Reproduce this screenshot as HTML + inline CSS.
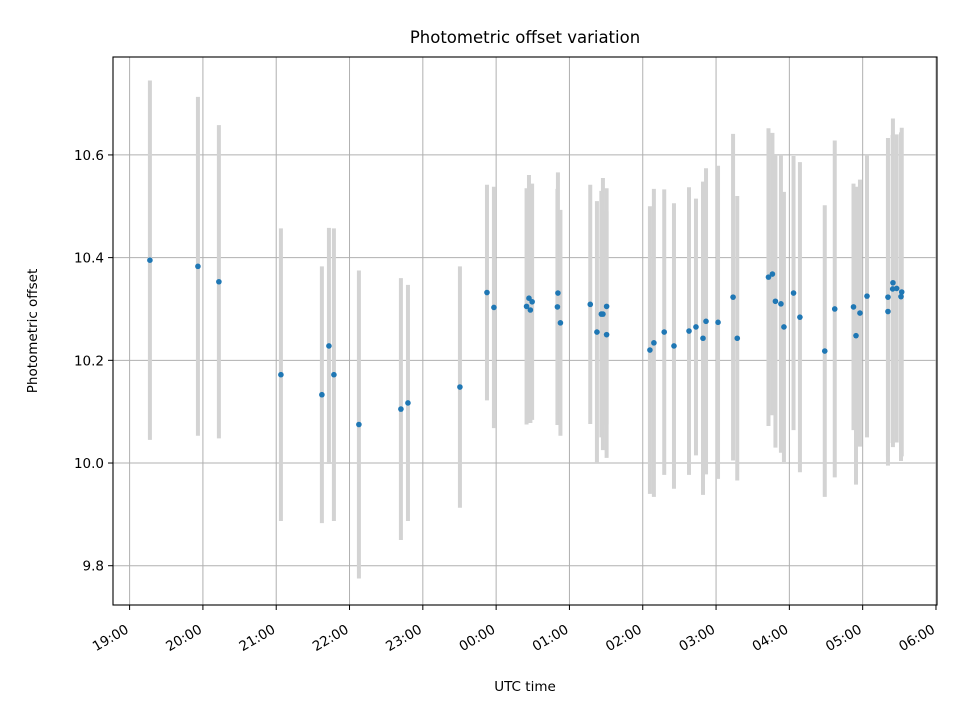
<!DOCTYPE html>
<html><head><meta charset="utf-8"><style>
html,body{margin:0;padding:0;background:#fff;}
svg{display:block;font-family:"DejaVu Sans","Liberation Sans",sans-serif;}
</style></head><body>
<svg id="chart" width="960" height="720" viewBox="0 0 960 720">
<rect width="960" height="720" fill="#fff"/>
<g id="grid"></g>
<g id="bars"></g>
<g id="dots"></g>
<rect x="113" y="57" width="824" height="548" fill="none" stroke="#000" stroke-width="1.1"/>
<g id="xticks"></g>
<g id="yticks"></g>
<text x="525" y="43" text-anchor="middle" font-size="16.5">Photometric offset variation</text>
<text x="525" y="691" text-anchor="middle" font-size="13.5">UTC time</text>
<text transform="translate(37,331) rotate(-90)" text-anchor="middle" font-size="13.5">Photometric offset</text>
</svg>
<script>
// hours since 19:00 UTC
const times = [0.277,0.932,1.218,2.064,2.623,2.719,2.787,3.128,3.701,3.797,4.506,4.875,4.970,
5.415,5.448,5.467,5.491,5.836,5.843,5.877,6.284,6.375,6.435,6.457,6.507,6.507,
7.098,7.152,7.293,7.426,7.631,7.726,7.822,7.863,8.027,8.232,8.289,8.715,8.769,8.810,8.885,8.926,
9.057,9.144,9.483,9.619,9.875,9.909,9.963,10.059,10.345,10.345,10.409,10.413,10.464,10.523,10.533];
const offsets = [10.395,10.383,10.353,10.172,10.133,10.228,10.172,10.075,10.105,10.117,10.148,10.332,10.303,
10.305,10.321,10.298,10.314,10.304,10.331,10.273,10.309,10.255,10.290,10.290,10.305,10.250,
10.220,10.234,10.255,10.228,10.257,10.265,10.243,10.276,10.274,10.323,10.243,10.362,10.368,10.315,10.310,10.265,
10.331,10.284,10.218,10.300,10.304,10.248,10.292,10.325,10.323,10.295,10.339,10.351,10.340,10.324,10.333];
const errors = [0.35,0.33,0.305,0.285,0.25,0.23,0.285,0.30,0.255,0.23,0.235,0.21,0.235,
0.23,0.24,0.22,0.23,0.23,0.235,0.22,0.233,0.255,0.24,0.265,0.23,0.24,
0.28,0.30,0.278,0.278,0.28,0.25,0.305,0.298,0.305,0.318,0.277,0.29,0.275,0.285,0.29,0.263,
0.267,0.302,0.284,0.328,0.24,0.29,0.26,0.275,0.31,0.30,0.30,0.32,0.30,0.32,0.32];
const xTickLabels = ["19:00","20:00","21:00","22:00","23:00","00:00","01:00","02:00","03:00","04:00","05:00","06:00"];
const yTickValues = [9.8,10.0,10.2,10.4,10.6];
const yTickLabels = ["9.8","10.0","10.2","10.4","10.6"];

const X0=113,X1=937,Y0=57,Y1=605;
const xMin=-0.2265,xMax=11.014,yMin=9.7235,yMax=10.7907;
const xs=h=>X0+(h-xMin)/(xMax-xMin)*(X1-X0);
const ys=v=>Y1-(v-yMin)/(yMax-yMin)*(Y1-Y0);
const NS="http://www.w3.org/2000/svg";
function mk(tag,attrs,parent){const e=document.createElementNS(NS,tag);for(const k in attrs)e.setAttribute(k,attrs[k]);parent.appendChild(e);return e;}
const grid=document.getElementById('grid'),xt=document.getElementById('xticks'),yt=document.getElementById('yticks');
xTickLabels.forEach((lab,i)=>{
  const x=xs(i);
  const g=mk('line',{x1:x,x2:x,y1:Y0,y2:Y1,stroke:'#b0b0b0','stroke-width':1},grid);
  
  
  const t=mk('line',{x1:x,x2:x,y1:Y1,y2:Y1+5,stroke:'#000','stroke-width':1},xt);
  
  
  const tx=mk('text',{x:0,y:0,'font-size':13.5,'text-anchor':'end',transform:`translate(${x},${Y1+27}) rotate(-30)`},xt);
  tx.textContent=lab;
  
  
});
yTickValues.forEach((v,i)=>{
  const y=ys(v);
  const g=mk('line',{x1:X0,x2:X1,y1:y,y2:y,stroke:'#b0b0b0','stroke-width':1},grid);
  
  
  const t=mk('line',{x1:X0-5,x2:X0,y1:y,y2:y,stroke:'#000','stroke-width':1},yt);
  
  
  const tx=mk('text',{x:X0-9,y:y+5,'font-size':13.5,'text-anchor':'end'},yt);
  tx.textContent=yTickLabels[i];
  
  
});
const bars=document.getElementById('bars'),dots=document.getElementById('dots');
times.forEach((h,i)=>{
  const x=xs(h);
  const b=mk('line',{x1:x,x2:x,y1:ys(offsets[i]+errors[i]),y2:ys(offsets[i]-errors[i]),stroke:'#d3d3d3','stroke-width':4},bars);
  
  
});
times.forEach((h,i)=>{
  const c=mk('circle',{cx:xs(h),cy:ys(offsets[i]),r:2.8,fill:'#1f77b4'},dots);
  
  
});
</script>
</body></html>
